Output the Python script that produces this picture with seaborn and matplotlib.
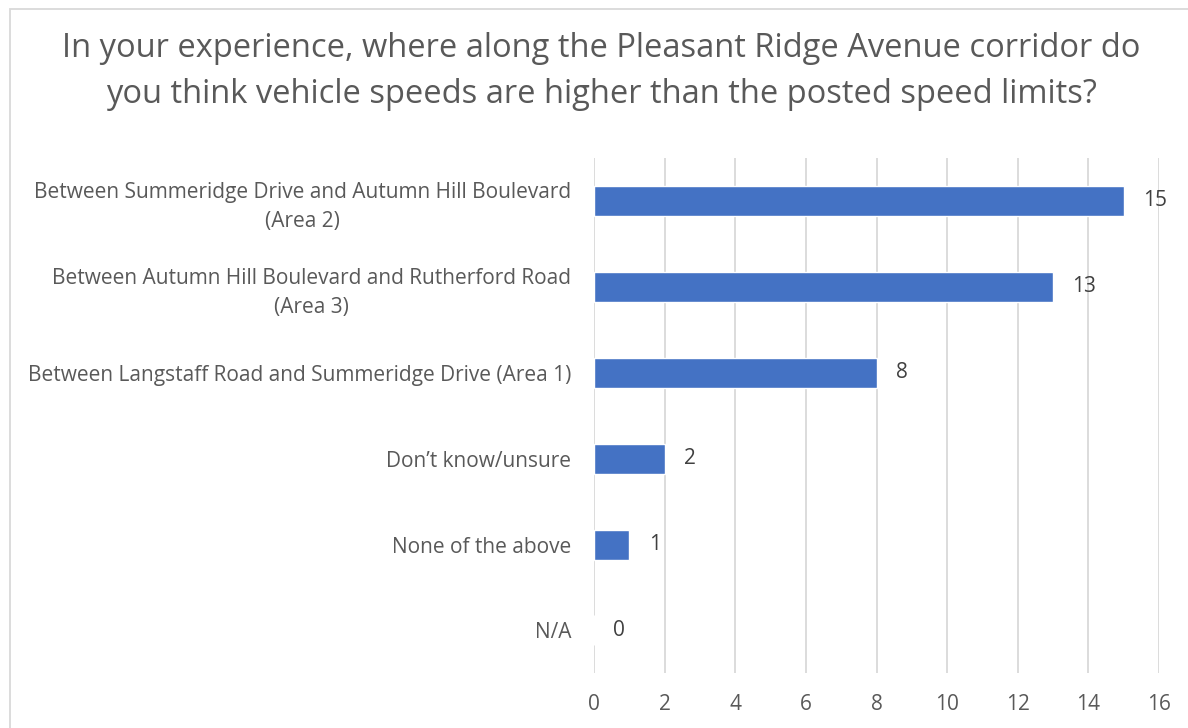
import pandas as pd
import matplotlib.pyplot as plt
import seaborn as sns
from matplotlib.patches import Rectangle

# Datos
categorias = [
    "Between Summeridge Drive and Autumn Hill Boulevard\n(Area 2)",
    "Between Autumn Hill Boulevard and Rutherford Road\n(Area 3)",
    "Between Langstaff Road and Summeridge Drive (Area 1)",
    "Don\u2019t know/unsure",
    "None of the above",
    "N/A",
]
respuestas = [15, 13, 8, 2, 1, 0]
ticks_x = [0, 2, 4, 6, 8, 10, 12, 14, 16]

titulo = ("In your experience, where along the Pleasant Ridge Avenue corridor do\n"
          "you think vehicle speeds are higher than the posted speed limits?")

df = pd.DataFrame({"Categoria": categorias, "Respuestas": respuestas})

sns.set_style("white")
plt.rcParams["font.family"] = ["Open Sans", "DejaVu Sans"]

gris = "#595959"

fig = plt.figure(figsize=(11.88, 7.28), dpi=100)
ax = fig.add_axes([0.5, 0.075, 0.4756, 0.708])

sns.barplot(data=df, y="Categoria", x="Respuestas", color="#4472C4",
            width=0.35, saturation=1, ax=ax, orient="h")

ax.bar_label(ax.containers[0], padding=14, fontsize=15, color="#404040")

ax.set_xlim(0, 16)
ax.set_xticks(ticks_x)
ax.grid(axis="x", color="#D9D9D9", linewidth=1.3)
ax.set_axisbelow(True)
for s in ax.spines.values():
    s.set_visible(False)
ax.set(xlabel=None, ylabel=None)
ax.tick_params(axis="both", length=0, labelsize=15, labelcolor=gris)
ax.tick_params(axis="x", pad=15)
ax.tick_params(axis="y", pad=16.5)
for lbl in ax.get_yticklabels():
    lbl.set_multialignment("center")
    lbl.set_linespacing(1.45)

fig.text(0.506, 0.902, titulo, ha="center", va="center", fontsize=23.5,
         color=gris, linespacing=1.5)

# Marco del gráfico
fig.patches.append(Rectangle((10 / 1188, -0.01), 1.0, 0.997, transform=fig.transFigure,
                             fill=False, edgecolor="#D9D9D9", linewidth=1.3))

fig.savefig("out.png", dpi=100)
